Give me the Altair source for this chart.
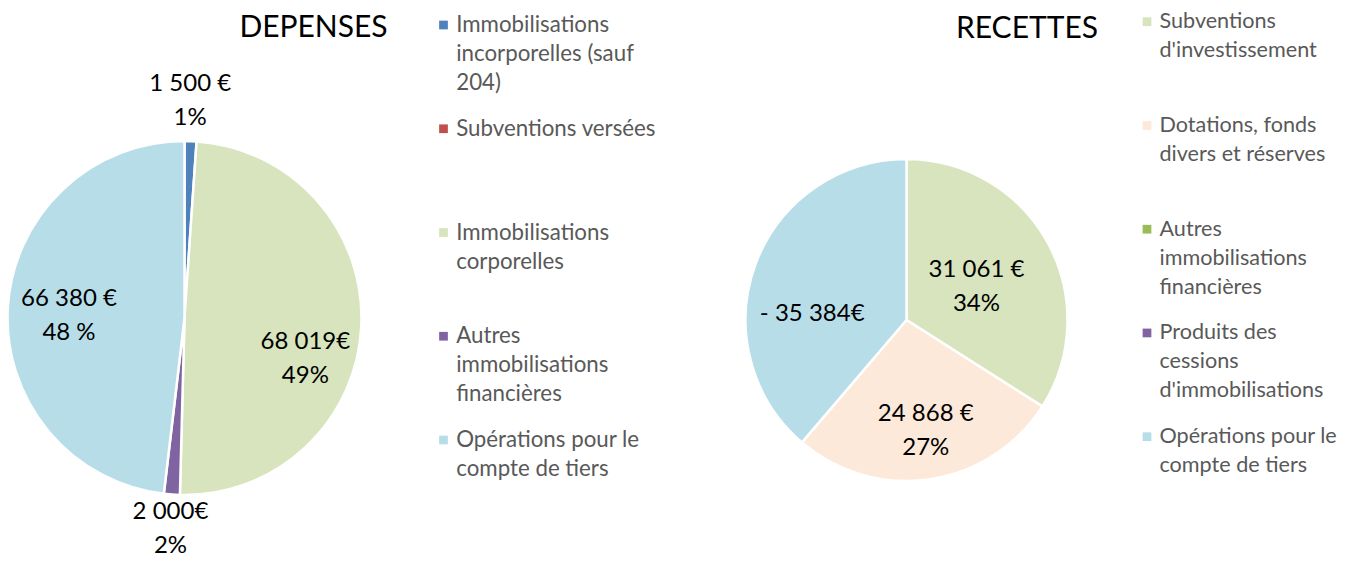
import altair as alt
import pandas as pd

FONT = "Lato"

# ---------------- data ----------------
dep_legend = [
    "Immobilisations\nincorporelles (sauf\n204)",
    "Subventions versées",
    "Immobilisations\ncorporelles",
    "Autres\nimmobilisations\nfinancières",
    "Opérations pour le\ncompte de tiers",
]
dep_values = [1500, 0, 68019, 2000, 66380]
dep_labels = ["1 500 €\n1%", "", "68 019€\n49%", "2 000€\n2%", "66 380 €\n48 %"]
dep_colors = ["#4F81BD", "#C0504D", "#D7E4BD", "#8064A2", "#B7DEE8"]

rec_legend = [
    "Subventions\nd'investissement",
    "Dotations, fonds\ndivers et réserves",
    "Autres\nimmobilisations\nfinancières",
    "Produits des\ncessions\nd'immobilisations",
    "Opérations pour le\ncompte de tiers",
]
rec_values = [31061, 24868, 0, 0, 35384]
rec_labels = ["31 061 €\n34%", "24 868 €\n27%", "", "", "- 35 384€"]
rec_colors = ["#D7E4BD", "#FDE9D9", "#9BBB59", "#8064A2", "#B7DEE8"]


def make_df(legend, values, labels):
    return pd.DataFrame({
        "idx": list(range(len(values))),
        "legend": legend,
        "value": values,
        "label": labels,
    })


dep_df = make_df(dep_legend, dep_values, dep_labels)
rec_df = make_df(rec_legend, rec_values, rec_labels)

LAB_FS = 24
LAB_LH = 34
LEG_LH = 29
STROKE = 2.5


def color_enc(colors):
    return alt.Color("idx:N", scale=alt.Scale(domain=list(range(5)), range=colors), legend=None)


def pie_view(df, colors, radius, width, height, yoff, title, title_x, title_y, specs):
    base = alt.Chart(df)
    arcs = base.transform_filter("datum.value > 0").mark_arc(
        radius=radius, stroke="white", strokeWidth=STROKE, strokeJoin="round", yOffset=yoff
    ).encode(
        theta=alt.Theta("value:Q", stack=True),
        color=color_enc(colors),
        order=alt.Order("idx:Q"),
    )
    labeled = base.transform_window(
        cum="sum(value)", sort=[alt.SortField("idx")], frame=[None, 0]
    ).transform_calculate(mid="datum.cum - datum.value / 2")
    layers = [arcs]
    for i, r, dx, dy in specs:
        layers.append(
            labeled.transform_filter(f"datum.idx == {i}").mark_text(
                radius=r, dx=dx, dy=dy, yOffset=yoff, font=FONT, fontSize=LAB_FS,
                lineBreak="\n", lineHeight=LAB_LH, baseline="top", align="center",
                color="black",
            ).encode(theta=alt.Theta("mid:Q"), text="label:N")
        )
    tdf = pd.DataFrame({"t": [title]})
    layers.append(
        alt.Chart(tdf).mark_text(
            font=FONT, fontSize=30, baseline="middle", align="center", color="black"
        ).encode(x=alt.value(title_x), y=alt.value(title_y), text="t:N")
    )
    return alt.layer(*layers).properties(width=width, height=height)


def legend_view(df, colors, width, height, pad, sq_x, tx_x, fs):
    base = alt.Chart(df)
    y = alt.Y("idx:O", scale=alt.Scale(type="point", padding=pad), axis=None)
    sq = base.mark_square(size=76, opacity=1).encode(
        x=alt.value(sq_x), y=y, color=color_enc(colors)
    )
    tx = base.mark_text(
        align="left", baseline="top", dy=-0.537 * fs + 1, font=FONT, fontSize=fs,
        lineBreak="\n", lineHeight=LEG_LH, color="#595959",
    ).encode(x=alt.value(tx_x), y=y, text="legend:N")
    return alt.layer(sq, tx).properties(width=width, height=height)


dep_specs = [(0, 219, -1.8, -27.4), (2, 121, 0, 6.3), (3, 220, 1.7, -37), (4, 115, -0.7, -23.9)]
rec_specs = [(0, 78, 1.6, -24.8), (1, 111, 2.8, -27.5), (4, 94, -6.1, 14.1)]

left_pie = pie_view(dep_df, dep_colors, 177, 354, 551, 34.5, "DEPENSES", 306, 20.4, dep_specs)
left_leg = legend_view(dep_df, dep_colors, 310, 449, 0.1639, 82, 94.7, 22.3)
right_pie = pie_view(rec_df, rec_colors, 161, 470, 551, 36.5, "RECETTES", 355.5, 21.4, rec_specs)
right_leg = legend_view(rec_df, rec_colors, 180, 442.4, 0.132, 5.5, 18, 21.6)

chart = alt.hconcat(
    left_pie, left_leg, right_pie, right_leg, spacing=0, bounds="flush"
).resolve_scale(
    color="independent", theta="independent", y="independent"
).properties(
    padding={"left": -STROKE, "top": 0, "right": 0, "bottom": 0}
).configure_view(strokeWidth=0)

chart.save("out.html", embed_options={"renderer": "svg", "actions": False})
